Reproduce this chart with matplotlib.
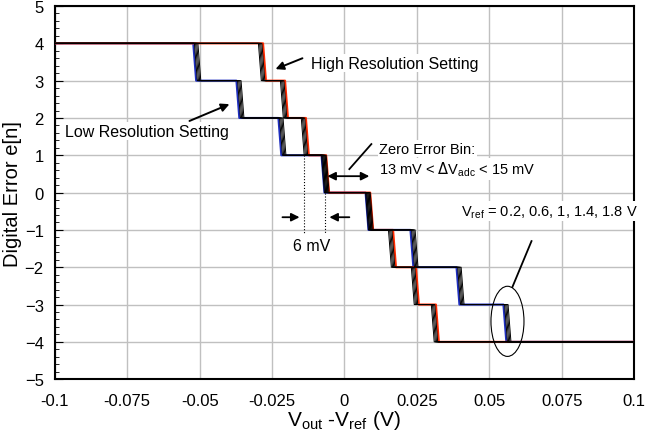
import numpy as np
import matplotlib
matplotlib.use('Agg')
import matplotlib.pyplot as plt
from matplotlib.patches import Ellipse
from matplotlib.ticker import MultipleLocator

plt.rcParams['font.family'] = ['Liberation Sans', 'DejaVu Sans']

# Transition points (V) of the leftmost curve for each setting, from code 4 down to -4
levels = [4, 3, 2, 1, 0, -1, -2, -3, -4]
high_res_edges = [-0.0297, -0.0221, -0.0149, -0.0079, 0.0073, 0.0152, 0.0231, 0.0300]
low_res_edges = [-0.0522, -0.0373, -0.0228, -0.0079, 0.0073, 0.0228, 0.0387, 0.0549]
# small shift of each Vref curve (V)
vref_values = [0.2, 0.6, 1.0, 1.4, 1.8]
vref_shift = [0.0, 0.0004, 0.0008, 0.0012, 0.0016]
slant = 0.001
x_min, x_max = -0.1, 0.1


def staircase(edges, shift):
    xs = [x_min]
    ys = [levels[0]]
    for i, e in enumerate(edges):
        xs += [e + shift, e + shift + slant]
        ys += [levels[i], levels[i + 1]]
    xs.append(x_max)
    ys.append(levels[-1])
    return xs, ys


fig, ax = plt.subplots(figsize=(6.45, 4.39), dpi=100)
fig.subplots_adjust(left=0.085, right=0.983, top=0.984, bottom=0.134)

# colored curves (one Vref) underneath, black curves on top
xs, ys = staircase(low_res_edges, vref_shift[0])
ax.plot(xs, ys, color='#1f2fbf', lw=1.5, zorder=3)
xs, ys = staircase(high_res_edges, vref_shift[4])
ax.plot(xs, ys, color='#ff2a00', lw=1.5, zorder=3)
for k in range(1, 5):
    xs, ys = staircase(low_res_edges, vref_shift[k])
    ax.plot(xs, ys, color='black', lw=0.7, zorder=4)
for k in range(0, 4):
    xs, ys = staircase(high_res_edges, vref_shift[k])
    ax.plot(xs, ys, color='black', lw=0.7, zorder=4)

ax.set_xlim(x_min, x_max)
ax.set_ylim(-5, 5)
ax.set_xticks([-0.1, -0.075, -0.05, -0.025, 0, 0.025, 0.05, 0.075, 0.1])
ax.set_xticklabels(['-0.1', '-0.075', '-0.05', '-0.025', '0', '0.025', '0.05', '0.075', '0.1'])
ax.set_yticks(range(-5, 6))
ax.yaxis.set_minor_locator(MultipleLocator(0.2))
ax.tick_params(axis='both', which='both', direction='in', labelsize=12, top=False, right=False)
ax.tick_params(axis='y', which='major', length=6, pad=8)
ax.tick_params(axis='y', which='minor', length=3)
ax.tick_params(axis='x', which='major', length=0, pad=10)
ax.grid(True, which='major', color='#c0c0c0', lw=1.0, zorder=0)
for s in ax.spines.values():
    s.set_linewidth(1.5)

ax.set_ylabel('Digital Error e[n]', fontsize=14.5)
ax.yaxis.set_label_coords(-0.056, 0.5)
ax.set_xlabel(r'V$_{\mathregular{out}}$ -V$_{\mathregular{ref}}$ (V)', fontsize=15, labelpad=0)

box = dict(facecolor='white', edgecolor='none', pad=1)

# annotations
ax.annotate('', xy=(-0.0238, 3.31), xytext=(-0.0145, 3.6),
            arrowprops=dict(arrowstyle='-|>', color='black', lw=1.4, mutation_scale=12,
                            shrinkA=0, shrinkB=0), zorder=6)
ax.text(-0.0114, 3.47, 'High Resolution Setting', fontsize=11.5, va='center', ha='left', bbox=box, zorder=5)

ax.text(-0.0964, 1.65, 'Low Resolution Setting', fontsize=11.5, va='center', ha='left', bbox=box, zorder=5)
ax.annotate('', xy=(-0.0397, 2.37), xytext=(-0.0535, 1.92),
            arrowprops=dict(arrowstyle='-|>', color='black', lw=1.4, mutation_scale=12,
                            shrinkA=0, shrinkB=0), zorder=6)

ax.text(0.0121, 1.17, 'Zero Error Bin:', fontsize=10.5, va='center', ha='left', bbox=box, zorder=5)
ax.text(0.0121, 0.63, r'13 mV < $\Delta$V$_{\mathregular{adc}}$ < 15 mV', fontsize=10.5,
        va='center', ha='left', bbox=box, zorder=5)
ax.plot([0.0017, 0.0093], [0.63, 1.3], color='black', lw=1.3, zorder=6)
ax.annotate('', xy=(-0.0059, 0.44), xytext=(0.0086, 0.44),
            arrowprops=dict(arrowstyle='<|-|>', color='black', lw=1.3, mutation_scale=12,
                            shrinkA=0, shrinkB=0), zorder=6)

# 6 mV step width marker
ax.plot([-0.0138, -0.0138], [1.0, -1.1], color='black', lw=0.8, ls=':', zorder=5)
ax.plot([-0.0066, -0.0066], [0.0, -1.1], color='black', lw=0.8, ls=':', zorder=5)
ax.annotate('', xy=(-0.0155, -0.66), xytext=(-0.0214, -0.66),
            arrowprops=dict(arrowstyle='-|>', color='black', lw=1.3, mutation_scale=12,
                            shrinkA=0, shrinkB=0), zorder=6)
ax.annotate('', xy=(-0.0052, -0.66), xytext=(0.0017, -0.66),
            arrowprops=dict(arrowstyle='-|>', color='black', lw=1.3, mutation_scale=12,
                            shrinkA=0, shrinkB=0), zorder=6)
ax.text(-0.0112, -1.42, '6 mV', fontsize=11.5, ha='center', va='center', zorder=5)

vref_label = r'V$_{\mathregular{ref}}$ = ' + ', '.join(f'{v:g}' for v in vref_values) + ' V'
ax.text(0.0404, -0.5, vref_label, fontsize=10.5, va='center', ha='left', bbox=box, zorder=5)
ax.plot([0.0646, 0.058], [-1.30, -2.53], color='black', lw=1.3, zorder=6)
ax.add_patch(Ellipse((0.0563, -3.45), 0.0114, 1.88, fill=False, edgecolor='black', lw=0.8, zorder=6))

plt.savefig('out.png', dpi=100)
